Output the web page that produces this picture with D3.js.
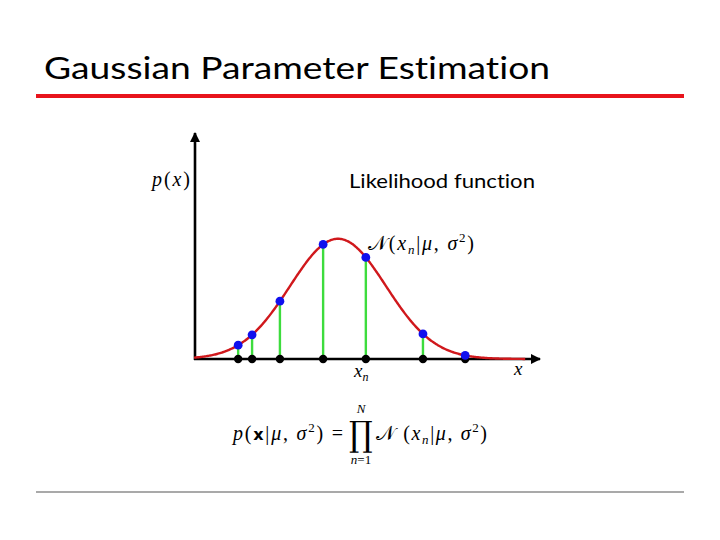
<!DOCTYPE html>
<html>
<head>
<meta charset="utf-8">
<script src="https://cdn.jsdelivr.net/npm/d3@7"></script>
<style>
  html, body { margin: 0; padding: 0; background: #fff; }
  svg { display: block; }
  text { font-variant-ligatures: none; }
</style>
</head>
<body>
<div id="chart"></div>
<script>
// ---- data ----
const title = "Gaussian Parameter Estimation";
const annotation = "Likelihood function";
const mu = 0;          // mean of the Gaussian (data units)
const sigma = 1;       // standard deviation (data units)
const sampleX = [-2.08, -1.79, -1.21, -0.31, 0.58, 1.77, 2.65]; // observed x_n
const xDomain = [-3, 4];
const yDomain = [0, 0.75];
const curveRange = [-3, 3.9];

// ---- setup ----
const W = 720, H = 540;
const svg = d3.select("#chart").append("svg").attr("width", W).attr("height", H);

const x = d3.scaleLinear().domain(xDomain).range([194, 530]);
const y = d3.scaleLinear().domain(yDomain).range([359, 133]);

const pdf = v => Math.exp(-((v - mu) ** 2) / (2 * sigma * sigma)) / (sigma * Math.sqrt(2 * Math.PI));

// title
svg.append("text").attr("x", 44).attr("y", 79)
  .attr("font-family", "Lato, 'Open Sans', sans-serif").attr("font-size", 31)
  .attr("textLength", 506).attr("lengthAdjust", "spacingAndGlyphs")
  .attr("fill", "#000").text(title);
svg.append("rect").attr("x", 36).attr("y", 94).attr("width", 648).attr("height", 4).attr("fill", "#e8141c");
svg.append("rect").attr("x", 36).attr("y", 491.5).attr("width", 648).attr("height", 1).attr("fill", "#555");

// arrow marker
const defs = svg.append("defs");
defs.append("marker").attr("id", "arr").attr("viewBox", "0 0 10 10")
  .attr("refX", 9).attr("refY", 5).attr("markerWidth", 4).attr("markerHeight", 4)
  .attr("markerUnits", "strokeWidth").attr("orient", "auto")
  .append("path").attr("d", "M0,0 L10,5 L0,10 Z").attr("fill", "#000");

// axes (no ticks)
const g = svg.append("g");
g.append("line").attr("x1", x(xDomain[0]) + 1).attr("x2", x(xDomain[0]) + 1)
  .attr("y1", y(0) + 1).attr("y2", y(yDomain[1]))
  .attr("stroke", "#000").attr("stroke-width", 2.6).attr("marker-end", "url(#arr)");
g.append("line").attr("x1", x(xDomain[0])).attr("x2", x(xDomain[1]) + 10)
  .attr("y1", y(0)).attr("y2", y(0))
  .attr("stroke", "#000").attr("stroke-width", 2.6).attr("marker-end", "url(#arr)");

// green stems
g.selectAll("line.stem").data(sampleX).enter().append("line").attr("class", "stem")
  .attr("x1", d => x(d)).attr("x2", d => x(d))
  .attr("y1", y(0)).attr("y2", d => y(pdf(d)))
  .attr("stroke", "#3ddc3d").attr("stroke-width", 2.4);

// curve
const curvePts = d3.range(curveRange[0], curveRange[1] + 1e-9, 0.02);
g.append("path").datum(curvePts)
  .attr("d", d3.line().x(d => x(d)).y(d => y(pdf(d))).curve(d3.curveBasis))
  .attr("fill", "none").attr("stroke", "#d0181c").attr("stroke-width", 2.4);

// black dots on axis
g.selectAll("circle.base").data(sampleX).enter().append("circle").attr("class", "base")
  .attr("cx", d => x(d)).attr("cy", y(0)).attr("r", 4.2).attr("fill", "#000");
// blue dots on curve
g.selectAll("circle.pt").data(sampleX).enter().append("circle").attr("class", "pt")
  .attr("cx", d => x(d)).attr("cy", d => y(pdf(d))).attr("r", 4.4).attr("fill", "#1010ee");

// labels
const serif = "'Liberation Serif', 'DejaVu Serif', serif";
function mathText(xp, yp, size, parts, anchor, len) {
  const t = svg.append("text").attr("x", xp).attr("y", yp).attr("font-family", serif)
    .attr("font-size", size).attr("fill", "#000").attr("text-anchor", anchor || "start");
  if (len) t.attr("textLength", len).attr("lengthAdjust", "spacing");
  parts.forEach(p => {
    const s = t.append("tspan").text(p.t);
    if (p.i) s.attr("font-style", "italic");
    if (p.f) s.attr("font-family", p.f);
    if (p.w) s.attr("font-weight", p.w);
    if (p.dy) s.attr("dy", p.dy);
    if (p.fs) s.attr("font-size", p.fs);
    if (p.dx) s.attr("dx", p.dx);
  });
  return t;
}
mathText(152, 186, 20, [{t: "p", i: 1}, {t: "("}, {t: "x", i: 1}, {t: ")"}], "start", 38);

svg.append("text").attr("x", 349).attr("y", 188)
  .attr("font-family", "Lato, 'Open Sans', sans-serif").attr("font-size", 20)
  .attr("textLength", 186).attr("lengthAdjust", "spacingAndGlyphs").text(annotation);

mathText(368, 250, 20, [
  {t: "𝒩"}, {t: "("}, {t: "x", i: 1}, {t: "n", i: 1, fs: 13, dy: 4}, {t: "|", dy: -4},
  {t: "μ", i: 1}, {t: ", "}, {t: "σ", i: 1}, {t: "2", fs: 13, dy: -8}, {t: ")", dy: 8}
], "start", 106);

mathText(354, 377, 19, [{t: "x", i: 1}, {t: "n", i: 1, fs: 12, dy: 4}]);
mathText(514, 375, 19, [{t: "x", i: 1}]);

// bottom formula
mathText(233, 440, 20, [
  {t: "p", i: 1}, {t: "("}, {t: "x", w: "bold", f: "'DejaVu Sans', sans-serif", fs: 16}, {t: "|"},
  {t: "μ", i: 1}, {t: ", "}, {t: "σ", i: 1}, {t: "2", fs: 13, dy: -8}, {t: ") =", dy: 8}
], "start", 110);
svg.append("text").attr("x", 361).attr("y", 0).attr("text-anchor", "middle")
  .attr("font-family", "'DejaVu Serif', serif").attr("font-size", 30)
  .attr("transform", "translate(0,446) scale(1,1.15)")
  .text("∏");
mathText(361, 413, 13, [{t: "N", i: 1}], "middle");
mathText(361, 464, 13, [{t: "n", i: 1}, {t: "=1"}], "middle");
mathText(376, 440, 20, [
  {t: "𝒩"}, {t: " ("}, {t: "x", i: 1}, {t: "n", i: 1, fs: 13, dy: 4}, {t: "|", dy: -4},
  {t: "μ", i: 1}, {t: ", "}, {t: "σ", i: 1}, {t: "2", fs: 13, dy: -8}, {t: ")", dy: 8}
], "start", 111);
</script>
</body>
</html>
